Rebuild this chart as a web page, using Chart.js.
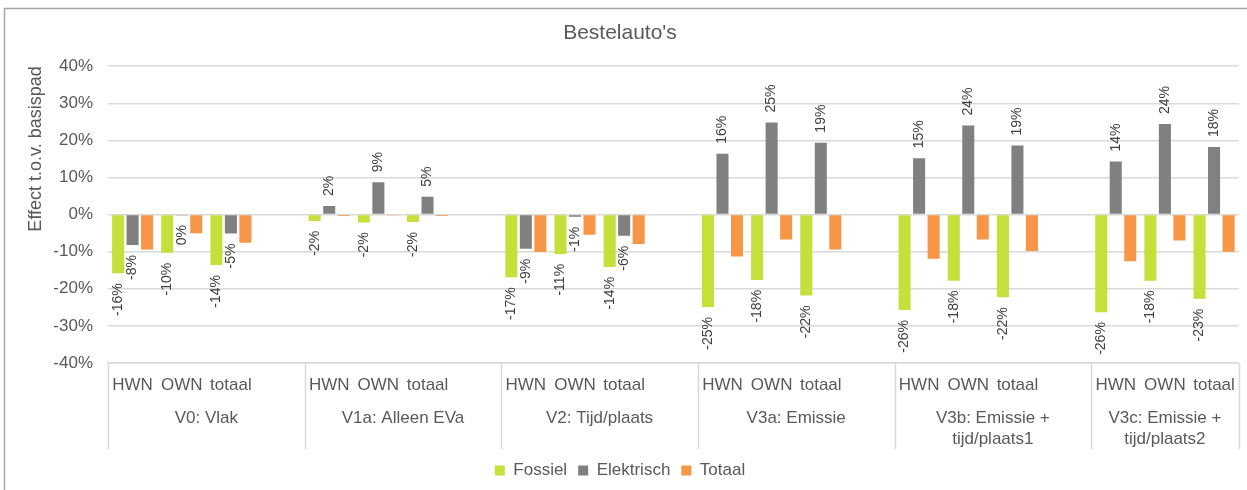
<!DOCTYPE html>
<html>
<head>
<meta charset="utf-8">
<script src="https://cdn.jsdelivr.net/npm/chart.js@4"></script>
<style>
  html, body { margin: 0; padding: 0; background: #fff; }
  #wrap { width: 1247px; height: 490px; position: relative; }
</style>
</head>
<body>
<div id="wrap"><canvas id="g-bestel"></canvas></div>
<script>
// groepen (scenario's) en subcategorieen
var groepen = ['V0: Vlak', 'V1a: Alleen EVa', 'V2: Tijd/plaats', 'V3a: Emissie', 'V3b: Emissie +\ntijd/plaats1', 'V3c: Emissie +\ntijd/plaats2'];
var subcats = ['HWN', 'OWN', 'totaal'];

// waarden in %, per groep HWN, OWN, totaal
var fossiel = [-15.8, -10.3, -13.6,  -1.7, -2.1, -2.0,  -16.9, -10.6, -14.1,  -24.9, -17.6, -21.8,  -25.7, -17.8, -22.3,  -26.3, -17.8, -22.7];
var elektrisch = [-8.2, -0.1, -5.1,  2.3, 8.7, 4.8,  -9.2, -0.6, -5.7,  16.4, 24.8, 19.4,  15.2, 24.0, 18.6,  14.3, 24.4, 18.2];
var totaal = [-9.4, -5.0, -7.6,  -0.4, -0.1, -0.4,  -10.1, -5.4, -7.9,  -11.3, -6.7, -9.4,  -11.9, -6.7, -9.8,  -12.6, -7.0, -10.0];

var yTicks = [-40, -30, -20, -10, 0, 10, 20, 30, 40];

// elke groep krijgt een lege plek erachter (behalve de laatste)
function slots(arr) {
    var out = [];
    for (var g = 0; g < groepen.length; g++) {
        for (var i = 0; i < subcats.length; i++) out.push(arr ? arr[g * 3 + i] : subcats[i]);
        if (g < groepen.length - 1) out.push(arr ? null : '');
    }
    return out;
}

var txt = '#595959';
var fam = '"Liberation Sans", Arial, sans-serif';

var frame = {
    id: 'frame',
    beforeDraw: function (chart) {
        var c = chart.ctx;
        c.save();
        c.strokeStyle = '#A6A6A6';
        c.lineWidth = 1.5;
        c.beginPath();
        c.moveTo(4.5, chart.height + 2);
        c.lineTo(4.5, 8.5);
        c.lineTo(chart.width + 2, 8.5);
        c.stroke();
        c.restore();
    }
};

var groepLabels = {
    id: 'groepLabels',
    afterDraw: function (chart) {
        var x = chart.scales.x, c = chart.ctx;
        var w = x.getPixelForValue(1) - x.getPixelForValue(0);
        var top = x.top, bottom = x.top + 86;
        c.save();
        c.strokeStyle = '#D9D9D9';
        c.lineWidth = 1.5;
        c.fillStyle = txt;
        c.font = '17px ' + fam;
        c.textAlign = 'center';
        c.textBaseline = 'middle';
        var edges = [x.left];
        for (var g = 0; g < groepen.length; g++) {
            var s0 = g * 4;
            var s1 = Math.min(g * 4 + 3, chart.data.labels.length - 1);
            var l = x.getPixelForValue(s0) - w / 2;
            var r = x.getPixelForValue(s1) + w / 2;
            edges.push(r);
            var lines = groepen[g].split('\n');
            for (var k = 0; k < lines.length; k++) {
                c.fillText(lines[k], (l + r) / 2, top + 55 + k * 21);
            }
        }
        edges.forEach(function (e) {
            c.beginPath();
            c.moveTo(Math.round(e) + 0.5, top);
            c.lineTo(Math.round(e) + 0.5, bottom);
            c.stroke();
        });
        c.restore();
    }
};

var waardeLabels = {
    id: 'waardeLabels',
    afterDatasetsDraw: function (chart) {
        var c = chart.ctx;
        c.save();
        c.fillStyle = '#404040';
        c.font = '14px ' + fam;
        c.textBaseline = 'middle';
        [0, 1].forEach(function (di) {
            var meta = chart.getDatasetMeta(di);
            var data = chart.data.datasets[di].data;
            meta.data.forEach(function (bar, i) {
                var v = data[i];
                if (v === null || v === undefined) return;
                var s = Math.round(v);
                if (s === 0) s = 0;
                c.save();
                c.translate(bar.x, bar.y);
                c.rotate(-Math.PI / 2);
                if (v < 0) {
                    c.textAlign = 'right';
                    c.fillText(s + '%', -10, 0);
                } else {
                    c.textAlign = 'left';
                    c.fillText(s + '%', 10, 0);
                }
                c.restore();
            });
        });
        c.restore();
    }
};

var ctx = document.getElementById('g-bestel');

var gBestel = new Chart(ctx, {
    type: 'bar',
    data: {
        labels: slots(null),
        datasets: [
            { label: 'Fossiel', data: slots(fossiel), backgroundColor: '#C5DF3B' },
            { label: 'Elektrisch', data: slots(elektrisch), backgroundColor: '#808080' },
            { label: 'Totaal', data: slots(totaal), backgroundColor: '#F79646' }
        ]
    },
    options: {
        responsive: true,
        maintainAspectRatio: false,
        animation: false,
        layout: { padding: { left: 0, right: 7, top: 0, bottom: 1 } },
        datasets: {
            bar: { categoryPercentage: 0.885, barPercentage: 0.83 }
        },
        scales: {
            x: {
                grid: { display: false, drawTicks: false },
                border: { display: true, color: '#D9D9D9', width: 1.5 },
                ticks: {
                    autoSkip: false, maxRotation: 0, minRotation: 0, padding: 12,
                    color: txt, font: { size: 17, family: fam }
                },
                afterFit: function (s) { s.height = 88; }
            },
            y: {
                min: -40, max: 40,
                afterBuildTicks: function (s) { s.ticks = yTicks.map(function (v) { return { value: v }; }); },
                grid: { color: '#D9D9D9', lineWidth: 1.5, drawTicks: false },
                border: { display: false },
                ticks: {
                    padding: 15, color: txt,
                    font: { size: 17, family: fam },
                    callback: function (v) { return v + '%'; }
                },
                title: {
                    display: true, text: 'Effect t.o.v. basispad', align: 'end',
                    color: txt, font: { size: 18, family: fam },
                    padding: { top: 25, bottom: 0 }
                },
                afterFit: function (s) { s.width = 108; }
            }
        },
        plugins: {
            title: {
                display: true, text: "Bestelauto's", color: txt,
                font: { size: 21, weight: 'normal', family: fam },
                padding: { top: 21, bottom: 20 }
            },
            legend: {
                position: 'bottom',
                labels: {
                    color: txt, boxWidth: 10, boxHeight: 10, padding: 11,
                    font: { size: 17, family: fam }
                }
            },
            tooltip: { enabled: false }
        }
    },
    plugins: [frame, groepLabels, waardeLabels]
});
</script>
</body>
</html>
